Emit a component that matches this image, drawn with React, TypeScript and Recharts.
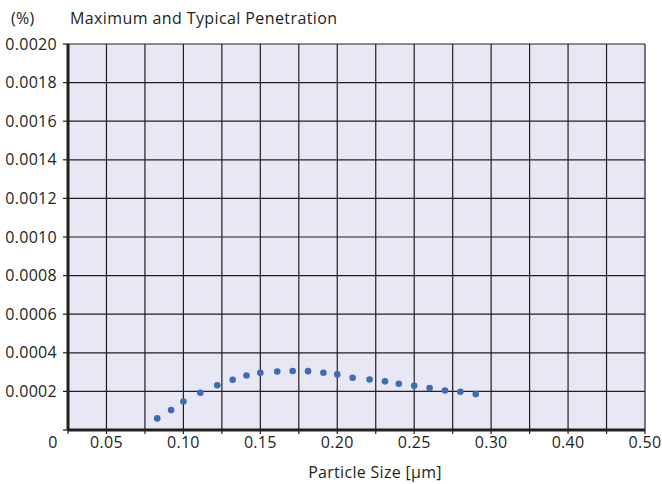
import React from 'react';
import { ScatterChart, Scatter, XAxis, YAxis, CartesianGrid } from 'recharts';

// particle size (µm) and penetration (%)
const SIZES = [
  0.083, 0.092, 0.1, 0.111, 0.122, 0.132, 0.141, 0.15, 0.161, 0.171, 0.181,
  0.191, 0.2, 0.21, 0.221, 0.231, 0.24, 0.25, 0.26, 0.27, 0.28, 0.29,
];
const PENETRATION = [
  0.00006, 0.000103, 0.000148, 0.000193, 0.000232, 0.00026, 0.000282, 0.000297,
  0.000303, 0.000306, 0.000305, 0.000297, 0.000288, 0.000271, 0.000262,
  0.000252, 0.00024, 0.000229, 0.000217, 0.000205, 0.000198, 0.000186,
];

// x grid positions (uniform 0.025 steps) and the labels printed under them
const X_TICKS = [
  0.025, 0.05, 0.075, 0.1, 0.125, 0.15, 0.175, 0.2, 0.225, 0.25, 0.275, 0.3,
  0.325, 0.35, 0.375, 0.4,
];
const X_TICK_LABELS = [
  '0', '0.05', '', '0.10', '', '0.15', '', '0.20', '', '0.25', '', '0.30',
  '', '0.40', '', '0.50',
];
const Y_TICKS = [0, 0.0002, 0.0004, 0.0006, 0.0008, 0.001, 0.0012, 0.0014, 0.0016, 0.0018, 0.002];

const data = SIZES.map((s, i) => ({ size: s, pen: PENETRATION[i] }));

const FONT = '"Open Sans", sans-serif';
const INK = '#231f20';

const XTick = ({ x, y, index }: any) => {
  const label = X_TICK_LABELS[index];
  if (!label) return null;
  return (
    <text
      x={x + (index === 0 ? -15 : 0)}
      y={y + 12}
      textAnchor="middle"
      fontSize={16}
      letterSpacing={0.3}
      fontFamily={FONT}
      fill={INK}
    >
      {label}
    </text>
  );
};

const YTick = ({ x, y, payload }: any) => {
  if (payload.value === 0) return null;
  return (
    <text
      x={x}
      y={y + 5.5}
      textAnchor="end"
      fontSize={16}
      letterSpacing={0.3}
      fontFamily={FONT}
      fill={INK}
    >
      {payload.value.toFixed(4)}
    </text>
  );
};

const Dot = ({ cx, cy }: any) => <circle cx={cx} cy={cy} r={3.3} fill="#3d6cb5" />;

export default function App() {
  return (
    <div style={{ position: 'absolute', left: 0, top: 0, width: 662, height: 484, background: '#fff' }}>
      <ScatterChart width={662} height={484} margin={{ top: 44, right: 17, left: 8, bottom: 24 }}>
        <CartesianGrid fill="#e8e8f4" stroke={INK} strokeWidth={1.2} strokeOpacity={1} />
        <XAxis
          type="number"
          dataKey="size"
          domain={[0.025, 0.4]}
          ticks={X_TICKS}
          interval={0}
          height={30}
          tickSize={4}
          tick={<XTick />}
          axisLine={{ stroke: INK, strokeWidth: 3 }}
          tickLine={{ stroke: INK, strokeWidth: 1.2 }}
        />
        <YAxis
          type="number"
          dataKey="pen"
          domain={[0, 0.002]}
          ticks={Y_TICKS}
          interval={0}
          width={60}
          tickSize={5}
          tickMargin={6}
          tick={<YTick />}
          axisLine={{ stroke: INK, strokeWidth: 3 }}
          tickLine={{ stroke: INK, strokeWidth: 1.2 }}
        />
        <Scatter data={data} shape={<Dot />} isAnimationActive={false} />
      </ScatterChart>
      <svg
        width={662}
        height={484}
        style={{ position: 'absolute', left: 0, top: 0, pointerEvents: 'none' }}
        fontFamily={FONT}
      >
        <text x={11} y={24} fontSize={16} letterSpacing={0.3} fill={INK}>(%)</text>
        <text x={70} y={24} fontSize={16} letterSpacing={0.4} fill={INK}>
          Maximum and Typical Penetration
        </text>
        <text x={375} y={478} fontSize={16} letterSpacing={0.3} fill={INK} textAnchor="middle">
          Particle Size [µm]
        </text>
      </svg>
    </div>
  );
}
